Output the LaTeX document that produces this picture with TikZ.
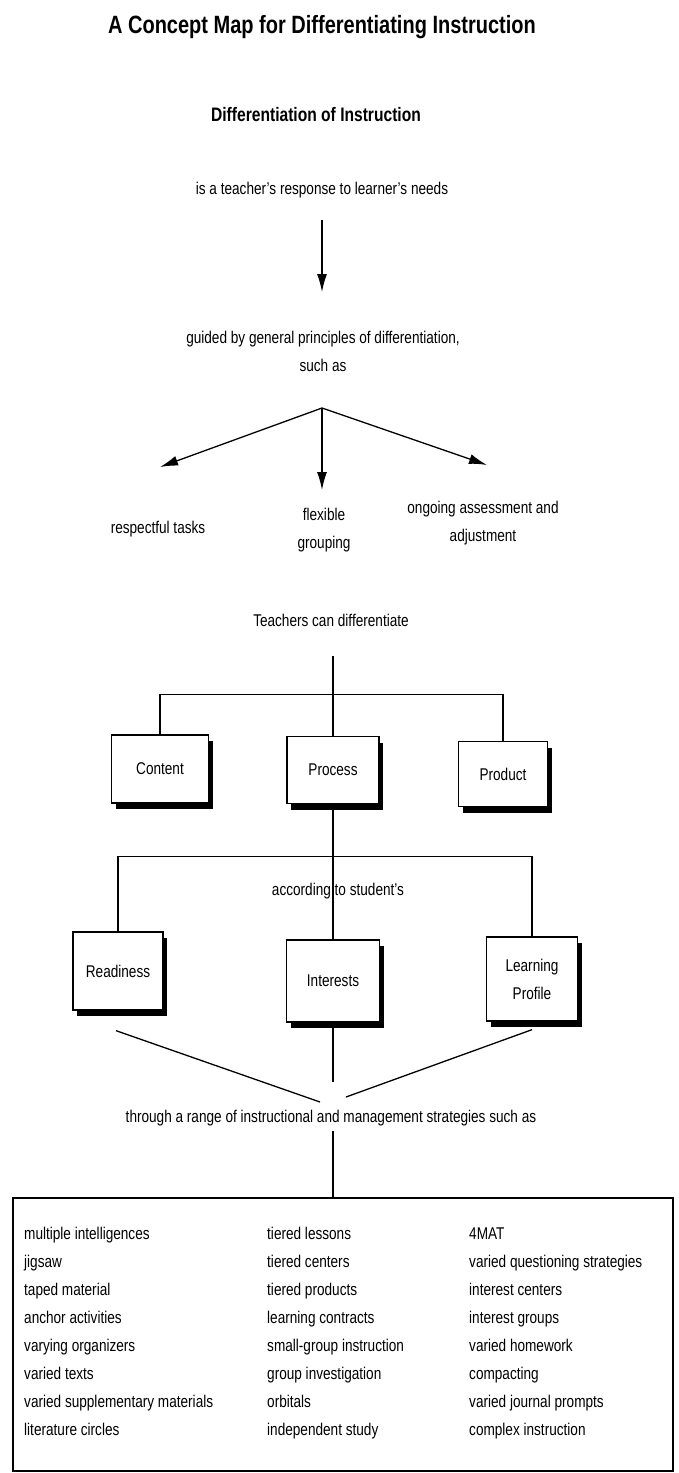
\documentclass[tikz,border=0pt]{standalone}
\usepackage{fontspec}
\setmainfont{Liberation Sans}[FakeStretch=0.8]
\usetikzlibrary{arrows.meta,shadows}

\tikzset{
  txt/.style={font=\fontsize{17}{28}\selectfont, align=center, inner sep=0pt},
  cbox/.style={txt, draw, fill=white, line width=1.3pt,
    drop shadow={shadow xshift=4pt, shadow yshift=-6pt, fill=black, opacity=1}},
  arr/.style={-{Latex[length=18pt,width=10pt]}},
  conn/.style={line width=1.3pt}
}

\begin{document}
\begin{tikzpicture}[x=1pt,y=-1pt]
  \useasboundingbox (0,0) rectangle (678,1473);

  % headings
  \node[txt, font=\bfseries\fontsize{25}{28}\selectfont] (title) at (322,27) {A Concept Map for Differentiating Instruction};
  \node[txt, font=\bfseries\fontsize{19.5}{22}\selectfont] (topic) at (316,115) {Differentiation of Instruction};

  % principles
  \node[txt] (resp) at (322,190) {is a teacher's response to learner's needs};
  \node[txt] (guide) at (323,351) {guided by general principles of differentiation,\\such as};
  \coordinate (aend) at (322,292);
  \coordinate (fork) at (322,408);
  \coordinate (tipl) at (160,467);
  \coordinate (tipc) at (322,490);
  \coordinate (tipr) at (487,465);
  \draw[conn, arr, shorten <=22pt] (resp) -- (aend);
  \draw[conn, arr] (fork) -- (tipl);
  \draw[conn, arr] (fork) -- (tipc);
  \draw[conn, arr] (fork) -- (tipr);
  \node[txt] (tasks) at (158,529) {respectful tasks};
  \node[txt] (flex) at (324,530) {flexible\\grouping};
  \node[txt] (ongoing) at (483,523) {ongoing assessment and\\adjustment};

  % what teachers differentiate
  \node[txt] (teach) at (331,620) {Teachers can differentiate};
  \node[cbox, minimum width=97pt, minimum height=68pt] (content) at (160,769) {Content};
  \node[cbox, minimum width=92pt, minimum height=67pt] (process) at (333,770) {Process};
  \node[cbox, minimum width=89pt, minimum height=65pt] (product) at (503,774) {Product};
  \draw[conn, shorten <=30pt] (teach.south -| process.north) -- (process.north);
  \draw[conn] (content.north) -- ++(0,-40) -| (product.north);

  % according to student's
  \node[txt] (accord) at (338,891) {according to student's};
  \node[cbox, minimum width=90pt, minimum height=78pt] (ready) at (118,971) {Readiness};
  \node[cbox, minimum width=93pt, minimum height=82pt] (interests) at (333,981) {Interests};
  \node[cbox, minimum width=91pt, minimum height=84pt] (profile) at (532,979) {Learning\\Profile};
  \draw[conn] (process.south) -- (interests.north);
  \draw[conn] (ready.north) -- ++(0,-75) -| (profile.north);

  % strategies
  \node[txt] (through) at (331,1118) {through a range of instructional and management strategies such as};
  \coordinate (mleft) at (320,1102);
  \coordinate (mmid) at (333,1082);
  \coordinate (mright) at (346,1097);
  \draw[conn] ([shift={(-2pt,-20pt)}]ready.south) -- (mleft);
  \draw[conn] ([yshift=-4pt]interests.south) -- (mmid);
  \draw[conn] ([yshift=-8pt]profile.south) -- (mright);

  \node[draw, line width=1.3pt, minimum width=660pt, minimum height=273pt, inner sep=0pt] (strat) at (343,1334.5) {};
  \draw[conn, shorten <=5pt] (through.south -| mmid) -- (strat.north -| mmid);

  \node[txt, align=left, anchor=north west] (colone) at (24,1227) {multiple intelligences\\jigsaw\\taped material\\anchor activities\\varying organizers\\varied texts\\varied supplementary materials\\literature circles};
  \node[txt, align=left, anchor=north west] (coltwo) at (267,1227) {tiered lessons\\tiered centers\\tiered products\\learning contracts\\small-group instruction\\group investigation\\orbitals\\independent study};
  \node[txt, align=left, anchor=north west] (colthree) at (469,1227) {\vphantom{l}4MAT\\varied questioning strategies\\interest centers\\interest groups\\varied homework\\compacting\\varied journal prompts\\complex instruction};
\end{tikzpicture}
\end{document}
